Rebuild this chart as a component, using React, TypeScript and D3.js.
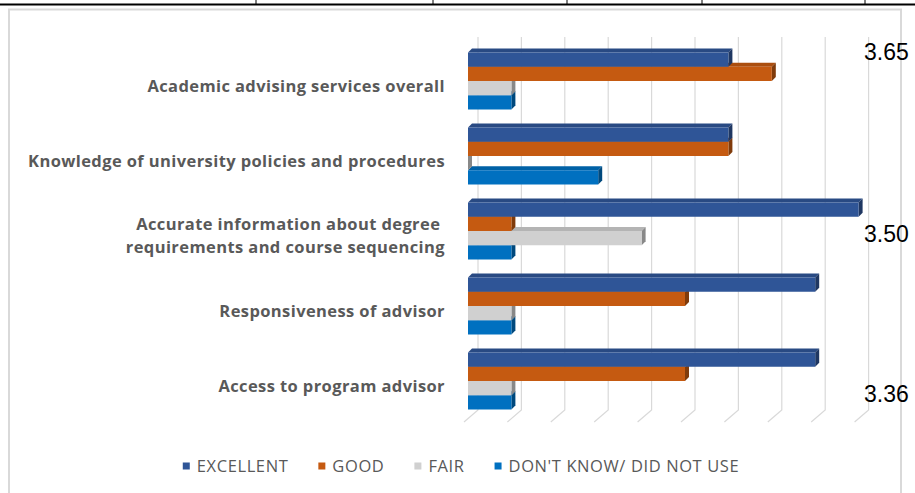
import React, { useRef, useEffect } from 'react';
import * as d3 from 'd3';

// survey items, top to bottom
const categories = [
    "Academic advising services overall",
    "Knowledge of university policies and procedures",
    "Accurate information about degree requirements and course sequencing",
    "Responsiveness of advisor",
    "Access to program advisor",
];
const categoryLines = [
    ["Academic advising services overall"],
    ["Knowledge of university policies and procedures"],
    ["Accurate information about degree ", "requirements and course sequencing"],
    ["Responsiveness of advisor"],
    ["Access to program advisor"],
];

const seriesNames = ["EXCELLENT", "GOOD", "FAIR", "DON'T KNOW/ DID NOT USE"];
const excellent = [6, 6, 9, 8, 8];
const good = [7, 6, 1, 5, 5];
const fair = [1, 0, 4, 1, 1];
const dontKnow = [1, 3, 1, 1, 1];
const seriesColors = ["#2F5597", "#C55A11", "#D0D0D0", "#0070C0"];

// mean scores written at the right edge
const meanLabels = ["3.65", "3.50", "3.36"];
const meanCategory = [0, 2, 4];
const meanPos = [0.13, 0.7, 0.87];

const gridTicks = d3.range(0, 10);

export default function App() {
    const width = 915;
    const height = 493;
    const svgRef = useRef<SVGSVGElement>(null);

    useEffect(() => {
        if (!svgRef.current) return;
        const svg = d3.select(svgRef.current);
        svg.selectAll("*").remove();

        const values = [excellent, good, fair, dontKnow];

        const x = d3.scaleLinear().domain([0, 9]).range([468, 468 + 9 * 43.4]);
        const y = d3.scaleBand<number>()
            .domain(d3.range(categories.length))
            .range([43.5, 418.5])
            .paddingInner(0.24)
            .paddingOuter(0.12);
        const ys = d3.scaleBand<number>()
            .domain(d3.range(seriesNames.length))
            .range([0, y.bandwidth()]);

        svg.append('rect').attr('width', width).attr('height', height).attr('fill', '#fff');

        // table lines above the chart
        svg.append('line').attr('x1', 0).attr('x2', width).attr('y1', 4.5).attr('y2', 4.5)
            .attr('stroke', '#000').attr('stroke-width', 2);
        [256, 433, 567, 702, 865].forEach(px => {
            svg.append('line').attr('x1', px).attr('x2', px).attr('y1', 0).attr('y2', 5)
                .attr('stroke', '#000').attr('stroke-width', 1);
        });

        // chart frame
        svg.append('rect').attr('x', 9).attr('y', 9.5).attr('width', 892).attr('height', 500)
            .attr('fill', 'none').attr('stroke', '#d9d9d9').attr('stroke-width', 2);

        // 3d grid: back wall + floor
        const wallTop = 37, wallBottom = 410, fdx = -14, fdy = 12, back = 10;
        const grid = svg.append('g').attr('stroke', '#d9d9d9').attr('stroke-width', 1.2).attr('fill', 'none');
        gridTicks.forEach(t => {
            const bx = x(t) + back;
            grid.append('path')
                .attr('d', `M${bx},${wallTop}L${bx},${wallBottom}L${bx + fdx},${wallBottom + fdy}`);
        });

        // bars, drawn bottom series first so the upper bar hides the lower top face
        const dep = 4;
        const bars = svg.append('g');
        categories.forEach((_, ci) => {
            for (let si = seriesNames.length - 1; si >= 0; si--) {
                const c = seriesColors[si];
                const x0 = x(0), x1 = x(values[si][ci]);
                const y0 = y(ci)! + ys(si)!, h = ys.bandwidth();
                const g = bars.append('g');
                g.append('path')
                    .attr('d', `M${x0},${y0}L${x1},${y0}L${x1 + dep},${y0 - dep}L${x0 + dep},${y0 - dep}Z`)
                    .attr('fill', d3.color(c)!.darker(0.4).toString());
                g.append('path')
                    .attr('d', `M${x1},${y0}L${x1 + dep},${y0 - dep}L${x1 + dep},${y0 + h - dep}L${x1},${y0 + h}Z`)
                    .attr('fill', d3.color(c)!.darker(1.2).toString());
                g.append('rect')
                    .attr('x', x0).attr('y', y0).attr('width', x1 - x0).attr('height', h)
                    .attr('fill', c);
            }
        });

        // category labels
        const labels = svg.append('g')
            .attr('font-family', '"Open Sans", sans-serif').attr('font-weight', 700)
            .attr('font-size', 16.5).attr('letter-spacing', 0.4)
            .attr('fill', '#595959').attr('text-anchor', 'end');
        categoryLines.forEach((lines, ci) => {
            const cy = y(ci)! + y.bandwidth() / 2 + 5;
            lines.forEach((ln, li) => {
                labels.append('text')
                    .attr('x', 445)
                    .attr('y', cy + (li - (lines.length - 1) / 2) * 23)
                    .attr('dy', '0.35em')
                    .attr('xml:space', 'preserve')
                    .style('white-space', 'pre')
                    .text(ln);
            });
        });

        // means
        meanLabels.forEach((m, i) => {
            svg.append('text')
                .attr('x', 864)
                .attr('y', y(meanCategory[i])! + meanPos[i] * y.bandwidth())
                .attr('font-family', '"Liberation Sans", Arial, sans-serif')
                .attr('font-size', 23)
                .attr('fill', '#000')
                .text(m);
        });

        // legend
        const legend = svg.append('g')
            .attr('font-family', '"Open Sans", sans-serif').attr('font-size', 16.5)
            .attr('letter-spacing', 0.6).attr('fill', '#595959');
        const items = seriesNames.map((name, i) => {
            const g = legend.append('g');
            g.append('rect').attr('x', 0).attr('y', -3.5).attr('width', 7).attr('height', 7).attr('fill', seriesColors[i]);
            const t = g.append('text').attr('x', 14).attr('dy', '0.35em').text(name);
            const w = 14 + (t.node() as SVGTextElement).getComputedTextLength();
            return { g, w };
        });
        const gap = 30;
        const total = d3.sum(items, d => d.w) + gap * (items.length - 1);
        let cx = 461 - total / 2;
        items.forEach(it => {
            it.g.attr('transform', `translate(${cx},466)`);
            cx += it.w + gap;
        });
    }, []);

    return <svg ref={svgRef} width={width} height={height}
        style={{ position: 'absolute', left: 0, top: 0, display: 'block' }} />;
}
